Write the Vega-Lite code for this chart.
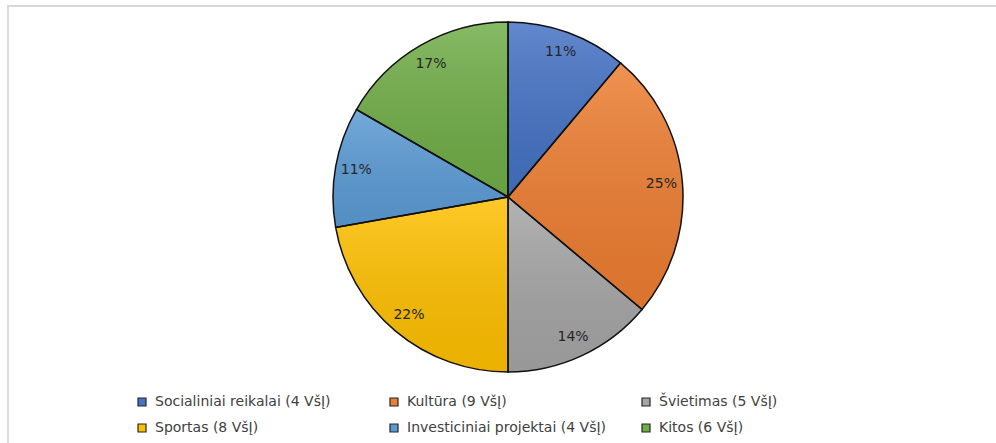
{
  "$schema": "https://vega.github.io/schema/vega-lite/v6.json",
  "width": 1000,
  "height": 382,
  "autosize": "none",
  "padding": {"left": 8, "top": 6, "right": 0, "bottom": 55},
  "background": "white",
  "config": {
    "view": {"stroke": null},
    "font": "DejaVu Sans"
  },
  "data": {
    "values": [
      {"cat": "Socialiniai reikalai (4 VšĮ)", "n": 4, "ord": 1, "pct": 0.11},
      {"cat": "Kultūra (9 VšĮ)", "n": 9, "ord": 2, "pct": 0.25},
      {"cat": "Švietimas (5 VšĮ)", "n": 5, "ord": 3, "pct": 0.14},
      {"cat": "Sportas (8 VšĮ)", "n": 8, "ord": 4, "pct": 0.22},
      {"cat": "Investiciniai projektai (4 VšĮ)", "n": 4, "ord": 5, "pct": 0.11},
      {"cat": "Kitos (6 VšĮ)", "n": 6, "ord": 6, "pct": 0.17}
    ]
  },
  "layer": [
    {
      "data": {"values": [{"frame": 1}]},
      "mark": {
        "type": "rect",
        "fill": null,
        "y2": 445,
        "stroke": "#d9d9d9",
        "strokeWidth": 2,
        "strokeDash": [1000, 1445, 445]
      },
      "encoding": {}
    },
    {
      "mark": {"type": "arc", "outerRadius": 175},
      "encoding": {
        "theta": {"field": "n", "type": "quantitative", "stack": true},
        "order": {"field": "ord", "type": "quantitative"},
        "color": {
          "field": "cat",
          "type": "nominal",
          "sort": ["Socialiniai reikalai (4 VšĮ)", "Kultūra (9 VšĮ)", "Švietimas (5 VšĮ)", "Sportas (8 VšĮ)", "Investiciniai projektai (4 VšĮ)", "Kitos (6 VšĮ)"],
          "scale": {
            "domain": ["Socialiniai reikalai (4 VšĮ)", "Kultūra (9 VšĮ)", "Švietimas (5 VšĮ)", "Sportas (8 VšĮ)", "Investiciniai projektai (4 VšĮ)", "Kitos (6 VšĮ)"],
            "range": ["#4472C4", "#ED7D31", "#A5A5A5", "#FFC000", "#5B9BD5", "#70AD47"]
          },
          "legend": {
            "title": null,
            "orient": "none",
            "legendX": 127,
            "legendY": 389,
            "direction": "horizontal",
            "columns": 3,
            "gridAlign": "all",
            "columnPadding": 32,
            "rowPadding": 12,
            "symbolType": "square",
            "symbolSize": 64,
            "symbolStrokeColor": "#262626",
            "symbolStrokeWidth": 1.2,
            "symbolOpacity": 1,
            "labelFontSize": 14,
            "labelColor": "#404040",
            "labelFont": "DejaVu Sans",
            "labelOffset": 6,
            "labelLimit": 400
          }
        }
      }
    },
    {
      "mark": {
        "type": "arc",
        "outerRadius": 175,
        "stroke": "#111111",
        "strokeWidth": 1.5,
        "fill": {
          "gradient": "linear", "x1": 0, "y1": 0, "x2": 0, "y2": 1,
          "stops": [
            {"offset": 0, "color": "rgba(255,255,255,0.16)"},
            {"offset": 1, "color": "rgba(0,0,0,0.08)"}
          ]
        }
      },
      "encoding": {
        "theta": {"field": "n", "type": "quantitative", "stack": true},
        "order": {"field": "ord", "type": "quantitative"}
      }
    },
    {
      "mark": {"type": "text", "radius": 154, "fontSize": 14, "font": "DejaVu Sans", "fill": "#262626"},
      "encoding": {
        "theta": {"field": "n", "type": "quantitative", "stack": true},
        "order": {"field": "ord", "type": "quantitative"},
        "text": {"field": "pct", "type": "quantitative", "format": ".0%"}
      }
    }
  ]
}
